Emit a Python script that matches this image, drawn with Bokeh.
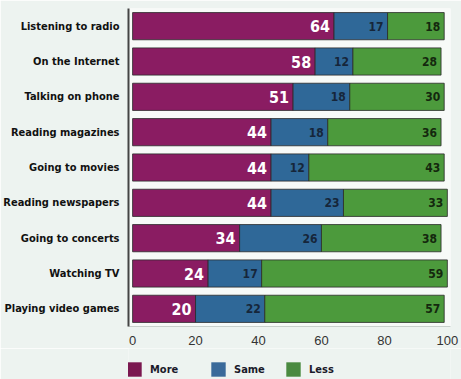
from bokeh.plotting import figure
from bokeh.models import ColumnDataSource, FactorRange, Range1d, Legend, LegendItem
from bokeh.layouts import column
from bokeh.core.properties import value
from bokeh.embed import file_html
from bokeh.resources import INLINE

activities = ["Listening to radio", "On the Internet", "Talking on phone", "Reading magazines",
              "Going to movies", "Reading newspapers", "Going to concerts", "Watching TV",
              "Playing video games"]
more = [64, 58, 51, 44, 44, 44, 34, 24, 20]
same = [17, 12, 18, 18, 12, 23, 26, 17, 22]
less = [18, 28, 30, 36, 43, 33, 38, 59, 57]
series = ["More", "Same", "Less"]
colors = ["#8a1c62", "#2f6898", "#4c9a3c"]
legend_colors = ["#7a1850", "#3a6a9a", "#4a8a40"]
xticks = [0, 20, 40, 60, 80, 100]

FONT = "DejaVu Sans Condensed"
bg = "#edf3f0"

src = ColumnDataSource(dict(
    y=activities, More=more, Same=same, Less=less,
    more_end=[m for m in more],
    same_end=[m + s for m, s in zip(more, same)],
    less_end=[m + s + l for m, s, l in zip(more, same, less)],
    more_txt=[str(v) for v in more],
    same_txt=[str(v) for v in same],
    less_txt=[str(v) for v in less],
))

p = figure(width=461, height=348, output_backend="svg", toolbar_location=None,
           y_range=FactorRange(*reversed(activities), range_padding=0),
           x_range=Range1d(-1.3, 101))
p.min_border_left = 126
p.min_border_right = 11
p.min_border_top = 8
p.min_border_bottom = 22
p.background_fill_color = "#f7faf8"
p.border_fill_color = bg
p.outline_line_color = None
p.xgrid.grid_line_color = None
p.ygrid.grid_line_color = None

p.hbar_stack(series, y="y", height=0.77, color=colors, source=src,
             line_color="#2a2a2a", line_width=0.8)

p.text(x="more_end", y="y", text="more_txt", source=src, x_offset=-4,
       text_align="right", text_baseline="middle", text_color="white",
       text_font=value(FONT), text_font_style="bold", text_font_size="16px")
p.text(x="same_end", y="y", text="same_txt", source=src, x_offset=-4,
       text_align="right", text_baseline="middle", text_color="#16263a",
       text_font=value(FONT), text_font_style="bold", text_font_size="12px")
p.text(x="less_end", y="y", text="less_txt", source=src, x_offset=-4,
       text_align="right", text_baseline="middle", text_color="#14280e",
       text_font=value(FONT), text_font_style="bold", text_font_size="12px")

p.xaxis.ticker = xticks
p.xaxis.major_tick_line_color = None
p.xaxis.minor_tick_line_color = None
p.xaxis.axis_line_color = "#c8d0cc"
p.xaxis.major_label_text_font = "Liberation Sans"
p.xaxis.major_label_text_font_size = "13px"
p.xaxis.major_label_text_color = "#333333"
p.xaxis.major_label_standoff = 3

p.yaxis.major_tick_line_color = None
p.yaxis.minor_tick_line_color = None
p.yaxis.axis_line_color = "#444444"
p.yaxis.axis_line_width = 2
p.yaxis.major_label_text_font = FONT
p.yaxis.major_label_text_font_style = "bold"
p.yaxis.major_label_text_font_size = "11px"
p.yaxis.major_label_text_color = "#111111"
p.yaxis.major_label_standoff = 3

# legend strip (its frame is aligned with the main frame by the column layout)
lg = figure(width=461, height=31, output_backend="svg", toolbar_location=None,
            x_range=Range1d(0, 1), y_range=Range1d(0, 1))
lg.min_border = 0
lg.axis.visible = False
lg.grid.visible = False
lg.outline_line_color = None
lg.background_fill_color = bg
lg.border_fill_color = bg

legend_x = [-3, 81, 156]
for name, c, lx in zip(series, legend_colors, legend_x):
    r = lg.rect(x=[-10], y=[-10], width=1, height=1, fill_color=c, line_color=None)
    leg = Legend(items=[LegendItem(label=name, renderers=[r])], location=(lx, 1),
                 glyph_width=18, glyph_height=18, label_standoff=7,
                 label_text_font=FONT, label_text_font_style="bold",
                 label_text_font_size="11px", label_text_color="#1a1a2a",
                 label_height=18, label_text_baseline="bottom",
                 background_fill_alpha=0, border_line_color=None,
                 padding=0, margin=0)
    lg.add_layout(leg, "center")

open("out.html", "w").write(file_html(column(p, lg, spacing=0), INLINE))
